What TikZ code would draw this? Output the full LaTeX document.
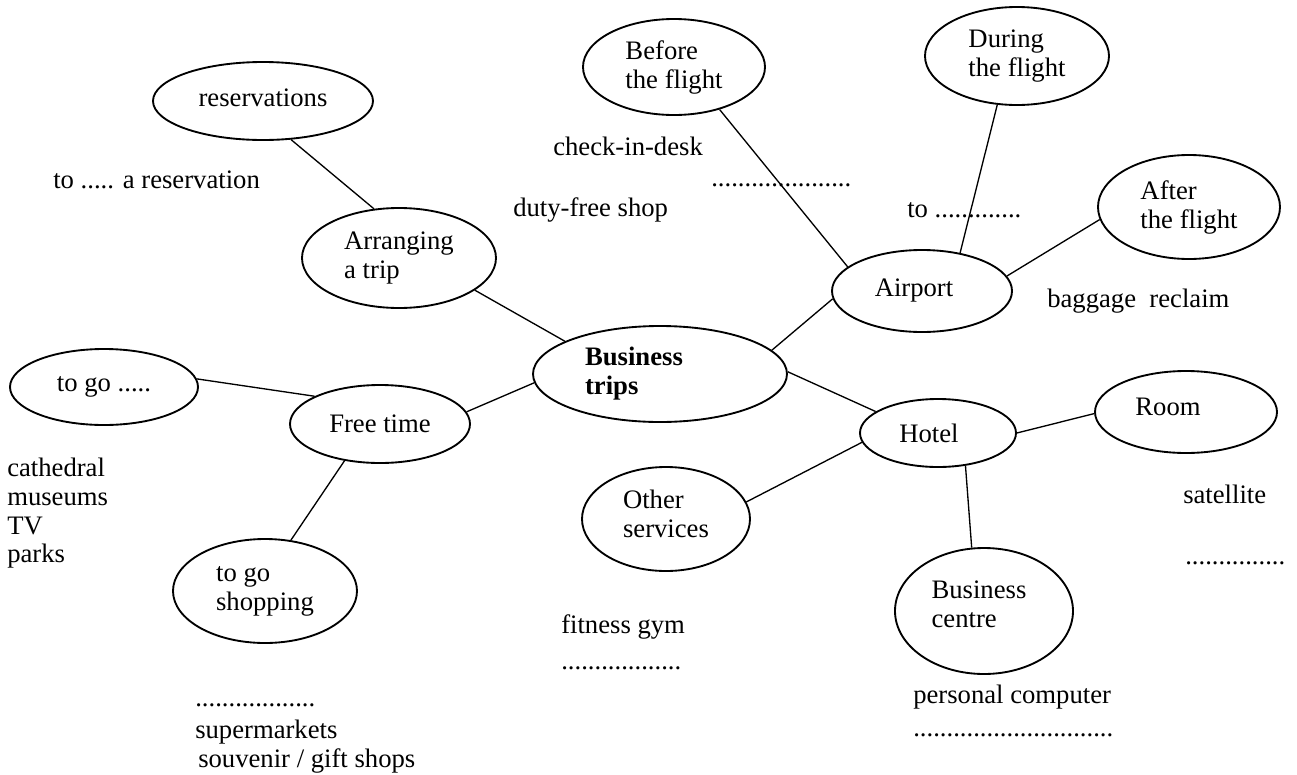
\documentclass[tikz,border=0pt]{standalone}
\usepackage{fontspec}
\setmainfont{Liberation Serif}
\usetikzlibrary{shapes.geometric}
\begin{document}
\begin{tikzpicture}[x=0.75pt,y=-0.75pt,
  bub/.style n args={2}{ellipse, draw, line width=1.4pt, inner sep=0pt,
    minimum width={#1*1.5pt}, minimum height={#2*1.5pt}},
  lbl/.style={inner sep=0pt, align=left, font=\fontsize{20}{21.75}\selectfont},
  free/.style={inner sep=0pt, anchor=base west, font=\fontsize{20}{21.75}\selectfont},
  link/.style={line width=1pt}]
\useasboundingbox (0,0) rectangle (1297,775);

% ellipses
\node[bub={110}{39}] (res)  at (263,101) {};
\node[bub={97}{50}]  (arr)  at (399,258) {};
\node[bub={91}{48}]  (bef)  at (674,67)  {};
\node[bub={92}{49}]  (dur)  at (1017,56) {};
\node[bub={91}{52}]  (aft)  at (1189,207) {};
\node[bub={90}{41}]  (air)  at (922,291) {};
\node[bub={127}{48}] (bt)   at (660,374) {};
\node[bub={78}{34}]  (hot)  at (938,433) {};
\node[bub={91}{41}]  (room) at (1186,412) {};
\node[bub={89}{63}]  (bc)   at (984,611) {};
\node[bub={84}{52}]  (oth)  at (666,519) {};
\node[bub={90}{39}]  (free) at (380,424) {};
\node[bub={94}{38}]  (togo) at (104,387) {};
\node[bub={92}{52}]  (shop) at (265,591) {};

% ellipse labels
\node[lbl] (res-t)  at ([shift={(0,-3)}]res.center)  {reservations};
\node[lbl] (arr-t)  at (arr)  {Arranging\\a trip};
\node[lbl] (bef-t)  at (bef)  {Before\\the flight};
\node[lbl] (dur-t)  at (dur)  {During\\the flight};
\node[lbl] (aft-t)  at (aft)  {After\\the flight};
\node[lbl] (air-t)  at ([shift={(-8,0)}]air.center) {Airport};
\node[lbl, font=\fontsize{20}{21.75}\selectfont\bfseries] (bt-t) at ([shift={(-26,0)}]bt.center) {Business\\trips};
\node[lbl] (hot-t)  at ([shift={(-9,0)}]hot.center) {Hotel};
\node[lbl] (room-t) at ([shift={(-18,-5)}]room.center) {Room};
\node[lbl] (bc-t)   at ([shift={(-5,-7)}]bc.center) {Business\\centre};
\node[lbl] (oth-t)  at ([shift={(0,-5)}]oth.center) {Other\\services};
\node[lbl] (free-t) at (free) {Free time};
\node[lbl] (togo-t) at (togo) {to go .....};
\node[lbl] (shop-t) at (shop) {to go\\shopping};

% connectors
\draw[link] (res.-54) -- (arr.117);
\draw[link] (arr.-23) -- (bt.161);
\draw[link] (free.8) -- (bt.-176);
\draw[link] (bt.12) -- (air.185);
\draw[link] (bt.1) -- (hot.161);
\draw[link] (hot.187) -- (oth.12);
\draw[link] (hot.0) -- (room.181);
\draw[link] (hot.-50) -- (bc.101);
\draw[link] (air.10) -- (aft.188);
\draw[link] (air.45) -- (dur.-112);
\draw[link] (bef.-43) -- (air.162);
\draw[link] (free.157) -- (togo.5);
\draw[link] (free.226) -- (shop.63);

% free texts
\node[free] (t1)  at (53,188)   {to ..... a reservation};
\node[free] (t2)  at (553,155)  {check-in-desk};
\node[free] (t3)  at (711,186)  {.....................};
\node[free] (t4)  at (513,216)  {duty-free shop};
\node[free] (t5)  at (907,217)  {to .............};
\node[free] (t6)  at (1047,307) {baggage\ \ reclaim};
\node[free] (t7)  at (7,476)    {cathedral};
\node[free] (t8)  at (7,505)    {museums};
\node[free] (t9)  at (7,534)    {TV};
\node[free] (t10) at (7,562)    {parks};
\node[free] (t11) at (195,706)  {..................};
\node[free] (t12) at (195,738)  {supermarkets};
\node[free] (t13) at (198,767)  {souvenir / gift shops};
\node[free] (t14) at (561,633)  {fitness gym};
\node[free] (t15) at (561,669)  {..................};
\node[free] (t16) at (1183,503) {satellite};
\node[free] (t17) at (1185,564) {...............};
\node[free] (t18) at (913,703)  {personal computer};
\node[free] (t19) at (913,736)  {..............................};
\end{tikzpicture}
\end{document}
